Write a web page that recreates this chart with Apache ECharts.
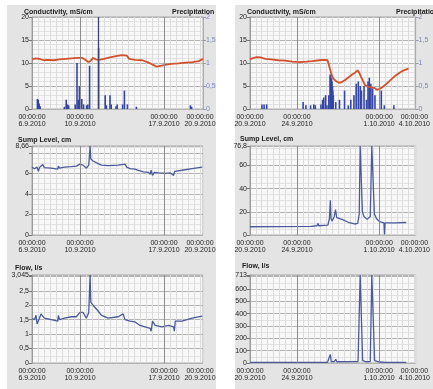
<!DOCTYPE html>
<html><head><meta charset="utf-8">
<script src="https://cdn.jsdelivr.net/npm/echarts@6/dist/echarts.min.js"></script>
<style>html,body{margin:0;padding:0;background:#fff}#c{width:433px;height:389px}</style>
</head><body><div id="c"></div><script>
// ---- tick labels ----
const timeLabel = '00:00:00';
const dateLabelDays = [0, 4, 11, 14];
const leftDateLabels = ['6.9.2010', '10.9.2010', '17.9.2010', '20.9.2010'];
const rightDateLabels = ['20.9.2010', '24.9.2010', '1.10.2010', '4.10.2010'];
const condTicks = ['0', '5', '10', '15', '20'];
const precipTicks = ['0', '0,5', '1', '1,5', '2'];
const sumpLeftTicks = ['0', '2', '4', '6', '8,66'];
const flowLeftTicks = ['0', '0,5', '1', '1,5', '2', '2,5', '3,045'];
const sumpRightTicks = ['0', '20', '40', '60', '76,8'];
const flowRightTicks = ['0', '100', '200', '300', '400', '500', '600', '713'];

// ---- series values: [day since first label, value] ----
const condLeft = [[0,10.8],[0.3,11.0],[0.6,10.9],[1.0,10.6],[1.3,10.7],[1.8,10.6],[2.3,10.8],[2.8,10.9],[3.3,11.0],[3.8,11.1],[4.2,11.1],[4.5,10.6],[4.7,10.2],[4.9,10.5],[5.1,11.1],[5.3,10.8],[5.6,10.7],[6.0,10.9],[6.5,11.2],[7.0,11.5],[7.5,11.7],[7.9,11.6],[8.1,10.9],[8.6,10.7],[9.2,10.6],[9.7,10.1],[10.1,9.6],[10.4,9.2],[10.7,9.4],[11.1,9.6],[11.6,9.8],[12.2,9.9],[12.8,10.1],[13.4,10.2],[13.9,10.4],[14.25,10.9]];
const precipLeft = [[0.45,0.22],[0.52,0.2],[0.6,0.12],[0.68,0.06],[2.7,0.05],[2.85,0.2],[2.95,0.1],[3.05,0.08],[3.6,0.1],[3.75,1.0],[3.85,0.2],[3.95,0.5],[4.05,0.2],[4.15,0.22],[4.3,0.1],[4.55,0.08],[4.65,0.1],[4.8,0.94],[5.55,1.33],[6.1,0.3],[6.2,0.08],[6.5,0.3],[6.6,0.1],[7.0,0.06],[7.1,0.1],[7.55,0.1],[7.7,0.4],[7.95,0.1],[8.7,0.05],[13.2,0.08],[13.3,0.05]];
const sumpLeft = [[0,6.6],[0.2,6.45],[0.42,6.6],[0.53,6.2],[0.64,6.6],[0.75,6.75],[0.9,6.85],[1.03,6.55],[1.6,6.5],[2.15,6.4],[2.2,6.7],[2.3,6.5],[2.71,6.6],[3.27,6.65],[3.69,6.7],[4.0,6.9],[4.25,6.8],[4.53,6.5],[4.73,6.8],[4.84,8.66],[4.9,7.4],[5.09,7.2],[5.51,6.95],[5.79,6.8],[6.35,6.75],[7.19,6.8],[7.75,6.9],[7.89,6.6],[8.17,6.45],[8.59,6.4],[8.87,6.3],[9.29,6.15],[9.71,6.1],[9.85,5.9],[9.93,6.3],[10.04,5.8],[10.2,6.1],[10.55,6.05],[11.1,6.0],[11.52,6.05],[11.8,5.8],[11.89,6.2],[12.5,6.3],[13.34,6.45],[14.18,6.6]];
const flowLeft = [[0,1.54],[0.2,1.5],[0.34,1.65],[0.42,1.35],[0.62,1.55],[0.75,1.7],[0.9,1.72],[1.03,1.55],[1.6,1.5],[2.15,1.45],[2.2,1.65],[2.3,1.5],[2.71,1.55],[3.27,1.6],[3.69,1.6],[4.0,1.75],[4.25,1.75],[4.53,1.55],[4.73,1.75],[4.84,3.045],[4.9,2.1],[5.09,2.0],[5.51,1.8],[5.79,1.65],[6.35,1.55],[7.19,1.6],[7.6,1.7],[7.75,1.5],[8.17,1.45],[8.59,1.42],[9.0,1.3],[9.43,1.25],[9.85,1.2],[9.93,1.1],[10.04,1.45],[10.26,1.3],[10.82,1.25],[11.38,1.3],[11.8,1.25],[11.86,1.1],[11.94,1.45],[12.5,1.45],[13.34,1.55],[14.18,1.62]];
const condRight = [[0,10.8],[0.3,11.1],[0.6,11.3],[0.9,11.2],[1.3,10.9],[1.8,10.8],[2.4,10.6],[3.0,10.5],[3.6,10.3],[4.2,10.2],[4.8,10.3],[5.3,10.4],[5.9,10.6],[6.3,10.7],[6.6,10.6],[6.7,9.8],[6.8,8.8],[6.95,7.4],[7.1,6.6],[7.3,6.1],[7.6,5.7],[7.85,5.9],[8.1,6.3],[8.4,6.9],[8.7,7.5],[8.95,7.9],[9.15,8.4],[9.3,7.9],[9.45,7.0],[9.6,6.2],[9.8,5.2],[10.05,4.8],[10.3,4.7],[10.6,4.6],[10.8,4.2],[11.0,4.3],[11.2,4.6],[11.5,5.2],[11.8,5.9],[12.1,6.6],[12.4,7.3],[12.7,7.8],[13.0,8.3],[13.3,8.6],[13.5,8.8]];
const precipRight = [[1.02,0.1],[1.2,0.1],[1.42,0.1],[4.52,0.15],[4.76,0.08],[5.16,0.08],[5.43,0.1],[5.56,0.08],[6.04,0.1],[6.18,0.2],[6.28,0.25],[6.44,0.3],[6.55,0.08],[6.71,0.3],[6.82,0.75],[6.86,0.72],[6.9,0.68],[6.94,0.65],[6.98,0.6],[7.02,0.5],[7.05,0.4],[7.09,0.3],[7.3,0.15],[7.62,0.2],[8.05,0.4],[8.37,0.08],[8.58,0.2],[8.85,0.3],[9.04,0.55],[9.22,0.6],[9.39,0.5],[9.49,0.4],[9.71,0.5],[9.92,0.2],[10.05,0.6],[10.16,0.68],[10.29,0.55],[10.43,0.45],[10.64,0.3],[11.18,0.4],[11.44,0.08],[12.25,0.08]];
const sumpRight = [[0,7.1],[2.5,7.2],[5.2,7.5],[5.7,8.0],[5.8,10],[5.85,8.0],[6.63,8.5],[6.76,14],[6.84,30],[6.9,14],[7.0,12],[7.17,16],[7.28,22],[7.38,15],[7.83,13.5],[8.37,11],[8.9,9.5],[9.17,10],[9.3,18],[9.38,76.8],[9.51,76.8],[9.57,20],[9.7,16],[9.97,13.5],[10.24,16],[10.37,76.8],[10.51,76.8],[10.59,18],[10.78,14],[11.04,11.5],[11.4,10.5],[11.45,0.5],[11.5,10.5],[12.38,10.5],[13.3,10.8]];
const flowRight = [[0,5],[5.0,5],[6.6,6],[6.76,10],[6.84,70],[6.92,10],[7.17,12],[7.3,30],[7.4,10],[9.2,12],[9.3,20],[9.38,713],[9.51,713],[9.59,20],[9.9,10],[10.24,12],[10.37,713],[10.51,713],[10.61,20],[11.04,8],[11.58,5],[13.3,5]];
const cursorDayLeft = 5.55;
const majorDays = [4, 11];

// ---- styles ----
const FONT = 'Liberation Sans';
const gridTops = [17, 146, 275];
const gridHeights = [92, 89, 88];
const colLeft = {left: 32, right: 230, xmax: 14.25, labels: leftDateLabels};
const colRight = {left: 250, right: 8, xmax: 14.1, labels: rightDateLabels};

const grids = [], xAxes = [], yAxes = [], series = [];
function tickFmt(list, max) {
  return function (v) {
    const s = (Math.abs(v - max) < 1e-9) ? list[list.length - 1] : String(+v.toFixed(4)).replace('.', ',');
    return list.indexOf(s) >= 0 ? s : '';
  };
}
function addPanel(col, row, y) {
  const gi = grids.length;
  grids.push({left: col.left, right: col.right, top: gridTops[row], height: gridHeights[row],
    show: true, backgroundColor: '#f8f8f8', borderColor: '#a8a8a8', borderWidth: 1});
  xAxes.push({type: 'value', gridIndex: gi, min: 0, max: col.xmax, interval: 0.5,
    axisLine: {show: false}, axisTick: {show: false},
    splitLine: {show: true, lineStyle: {color: '#dcdcdc', width: 1}},
    axisLabel: {show: true, fontSize: 7, fontFamily: FONT, color: '#222', margin: 4, lineHeight: 7.5,
      showMaxLabel: false,
      formatter: function (v) { const i = dateLabelDays.indexOf(v); return i >= 0 ? timeLabel + '\n' + col.labels[i] : ''; }}});
  const yi = yAxes.length;
  yAxes.push({type: 'value', gridIndex: gi, min: 0, max: y.max, interval: y.interval, position: 'left',
    axisLine: {show: true, lineStyle: {color: '#999'}},
    axisTick: {show: true, length: 3, lineStyle: {color: '#777'}},
    splitLine: {show: true, lineStyle: {color: '#b4b4b4', width: 1}},
    minorTick: {show: false, splitNumber: y.minor},
    minorSplitLine: {show: true, lineStyle: {color: '#e2e2e2', width: 1}},
    axisLabel: {fontSize: 7, fontFamily: FONT, color: '#222', margin: 3, showMaxLabel: true,
      formatter: tickFmt(y.ticks, y.max)}});
  // major vertical lines
  const mk = majorDays.map(d => ({xAxis: d}));
  if (y.cursor != null) mk.push({xAxis: y.cursor, lineStyle: {color: '#3e4470', width: 1.3}});
  series.push({type: 'line', xAxisIndex: gi, yAxisIndex: yi, data: [], z: 1, silent: true,
    markLine: {silent: true, symbol: 'none', label: {show: false}, animation: false,
      lineStyle: {color: '#8c8c8c', width: 1, type: 'solid'}, data: mk}});
  series.push({type: 'line', xAxisIndex: gi, yAxisIndex: yi, data: y.data, showSymbol: false,
    symbol: 'none', animation: false, z: 4,
    lineStyle: {color: y.color, width: y.width}});
  if (y.precip) {
    const pi = yAxes.length;
    yAxes.push({type: 'value', gridIndex: gi, min: 0, max: 2, interval: 0.5, position: 'right',
      axisLine: {show: true, lineStyle: {color: '#aab'}},
      axisTick: {show: true, length: 3, lineStyle: {color: '#99a'}},
      splitLine: {show: false},
      axisLabel: {fontSize: 7, fontFamily: FONT, color: '#7886c4', margin: 3,
        formatter: tickFmt(precipTicks, 2)}});
    series.push({type: 'bar', xAxisIndex: gi, yAxisIndex: pi, data: y.precip, barWidth: 1.6,
      animation: false, z: 3, itemStyle: {color: '#3445a6'}});
  }
}
const COND = '#d2502b', BLUE = '#4b5a9c';
addPanel(colLeft, 0, {max: 20, interval: 5, minor: 5, ticks: condTicks, data: condLeft, color: COND, width: 1.8, precip: precipLeft, cursor: cursorDayLeft});
addPanel(colLeft, 1, {max: 8.66, interval: 2, minor: 4, ticks: sumpLeftTicks, data: sumpLeft, color: BLUE, width: 1.3});
addPanel(colLeft, 2, {max: 3.045, interval: 0.5, minor: 2, ticks: flowLeftTicks, data: flowLeft, color: BLUE, width: 1.3});
addPanel(colRight, 0, {max: 20, interval: 5, minor: 5, ticks: condTicks, data: condRight, color: COND, width: 1.8, precip: precipRight});
addPanel(colRight, 1, {max: 76.8, interval: 20, minor: 4, ticks: sumpRightTicks, data: sumpRight, color: BLUE, width: 1.3});
addPanel(colRight, 2, {max: 713, interval: 100, minor: 2, ticks: flowRightTicks, data: flowRight, color: BLUE, width: 1.3});

function title(x, y, text) {
  return {type: 'text', x: x, y: y, z: 10, style: {text: text, font: 'bold 7px "' + FONT + '"', fill: '#1a1a1a', verticalAlign: 'middle', align: 'left'}};
}
const graphic = [
  {type: 'rect', z: -10, shape: {x: 7, y: 5, width: 209, height: 384}, style: {fill: '#e4e4e4'}},
  {type: 'rect', z: -10, shape: {x: 235, y: 5, width: 198, height: 384}, style: {fill: '#e4e4e4'}},
  title(24, 12, 'Conductivity, mS/cm'), title(172, 12, 'Precipitation'),
  title(247, 12, 'Conductivity, mS/cm'), title(396, 12, 'Precipitation'),
  title(18, 140, 'Sump Level, cm'), title(240, 139, 'Sump Level, cm'),
  title(15, 268, 'Flow, l/s'), title(242, 266, 'Flow, l/s')
];

const chart = echarts.init(document.getElementById('c'), null, {renderer: 'canvas'});
chart.setOption({animation: false, backgroundColor: '#ffffff', grid: grids, xAxis: xAxes, yAxis: yAxes, series: series, graphic: graphic});
</script></body></html>
